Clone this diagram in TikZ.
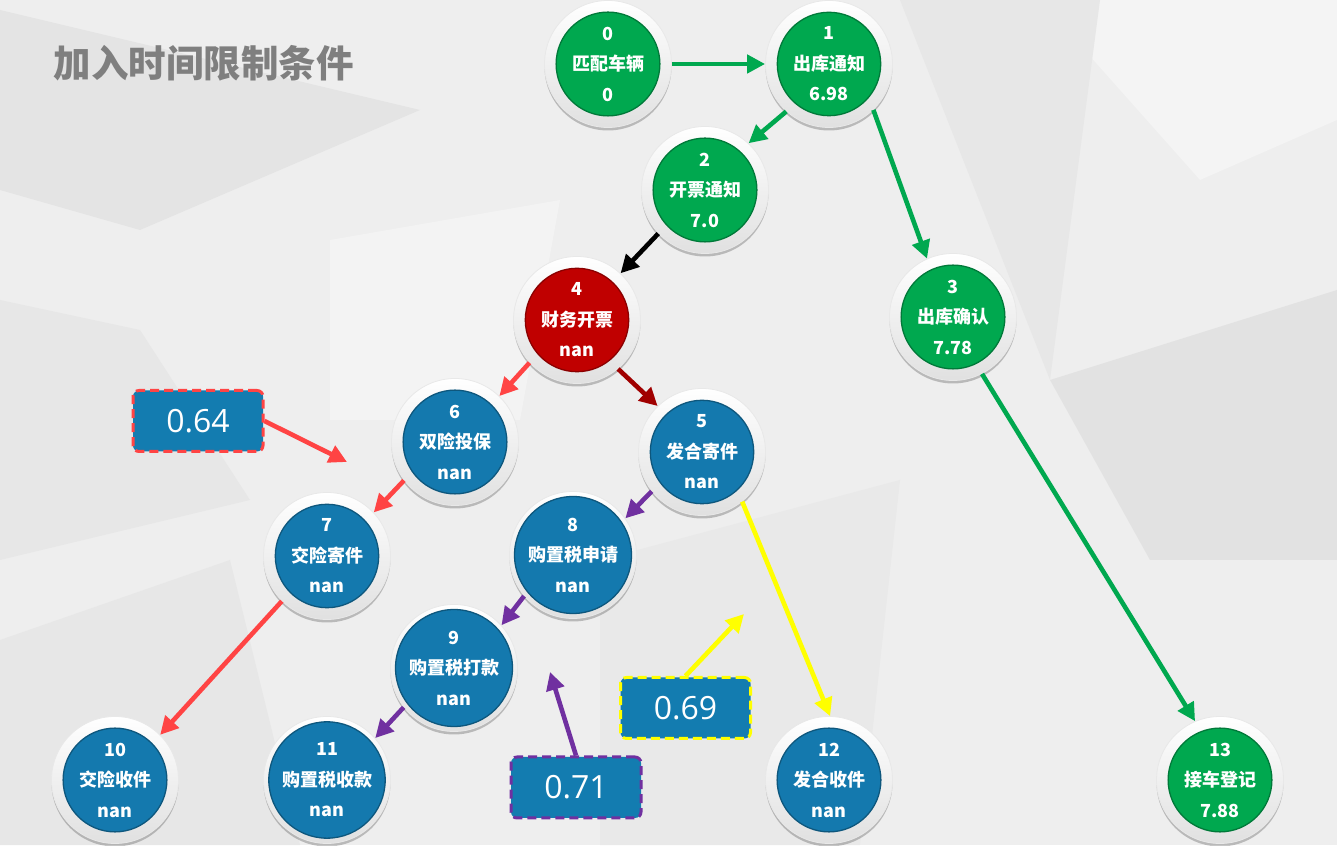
\documentclass[tikz,border=0pt]{standalone}
\usepackage{fontspec}
\newfontfamily\cjk{Noto Sans CJK SC}
\newfontfamily\lab{Open Sans}
\usetikzlibrary{arrows.meta,shadows}
\definecolor{bg}{HTML}{EEEEEE}
\definecolor{gn}{HTML}{00A84F}
\definecolor{bl}{HTML}{1479AE}
\definecolor{rd}{HTML}{C00000}
\definecolor{boxbl}{HTML}{137CB0}
\definecolor{lred}{HTML}{FF4444}
\definecolor{dred}{HTML}{A00000}
\definecolor{pur}{HTML}{7030A0}
\definecolor{yel}{HTML}{FFFF00}
\definecolor{ttl}{HTML}{7F7F7F}
\begin{document}
\begin{tikzpicture}[x=1pt,y=1pt,
  ring/.style={circle,minimum size=127pt,inner sep=0pt,top color=white,bottom color=black!12,draw=black!9,line width=0.8pt,
    drop shadow={shadow xshift=0pt,shadow yshift=-3pt,opacity=0.22,fill=black}},
  disk/.style={circle,minimum size=99pt,inner sep=0pt,draw=#1!72!black,line width=1.3pt,fill=#1,text=white,
    font=\cjk\bfseries\fontsize{18}{30.5}\selectfont,align=center},
  conn/.style={line width=4.6pt,draw=#1,-{Triangle[length=18pt,width=18pt]}},
  lbox/.style={rounded corners=6pt,fill=boxbl,draw=#1,dash pattern=on 9pt off 5pt,line width=3pt,
    minimum width=130pt,minimum height=61pt,text=white,font=\lab\fontsize{32}{36}\selectfont}
]
\useasboundingbox (0,0) rectangle (1337,845);
\fill[bg] (0,0) rectangle (1337,845);
\begin{scope}[yshift=845pt,yscale=-1]
  \fill[black!4!bg] (0,10) -- (420,110) -- (140,230) -- (0,190) -- cycle;
  \fill[white!30!bg] (330,240) -- (560,200) -- (520,420) -- (330,420) -- cycle;
  \fill[black!3!bg] (0,300) -- (140,330) -- (250,500) -- (0,560) -- cycle;
  \fill[black!5!bg] (1050,380) -- (1337,290) -- (1337,560) -- (1150,560) -- cycle;
  \fill[white!35!bg] (1040,0) -- (1337,0) -- (1337,120) -- (1200,180) -- cycle;
  \fill[black!3!bg] (900,0) -- (1100,0) -- (1050,380) -- cycle;
  \fill[black!3!bg] (0,640) -- (230,560) -- (300,845) -- (0,845) -- cycle;
  \fill[black!2!bg] (600,560) -- (900,480) -- (860,845) -- (600,845) -- cycle;
\end{scope}

\node[anchor=west,text=ttl,font=\cjk\bfseries\fontsize{37.5}{40}\selectfont] (title) at (50,782) {加入时间限制条件};

% nodes
\node[ring] (n0) at (608,781) {};  \node[disk=gn] (t0) at (n0) {0\\匹配车辆\\0};
\node[ring] (n1) at (829,781) {};  \node[disk=gn] (t1) at (n1) {1\\出库通知\\6.98};
\node[ring] (n2) at (705,655) {};  \node[disk=gn] (t2) at (n2) {2\\开票通知\\7.0};
\node[ring] (n3) at (953,528) {};  \node[disk=gn] (t3) at (n3) {3\\出库确认\\7.78};
\node[ring] (n4) at (577,525) {};  \node[disk=rd] (t4) at (n4) {4\\财务开票\\nan};
\node[ring] (n6) at (455,403) {};  \node[disk=bl] (t6) at (n6) {6\\双险投保\\nan};
\node[ring] (n5) at (702,393) {};  \node[disk=bl] (t5) at (n5) {5\\发合寄件\\nan};
\node[ring] (n7) at (327,289) {};  \node[disk=bl] (t7) at (n7) {7\\交险寄件\\nan};
\node[ring] (n8) at (573,290) {};  \node[disk=bl] (t8) at (n8) {8\\购置税申请\\nan};
\node[ring] (n9) at (454,177) {};  \node[disk=bl] (t9) at (n9) {9\\购置税打款\\nan};
\node[ring] (n10) at (115,65) {};  \node[disk=bl] (t10) at (n10) {10\\交险收件\\nan};
\node[ring] (n11) at (327,65) {};  \node[disk=bl] (t11) at (n11) {11\\购置税收款\\nan};
\node[ring] (n12) at (829,65) {};  \node[disk=bl] (t12) at (n12) {12\\发合收件\\nan};
\node[ring] (n13) at (1220,65) {}; \node[disk=gn] (t13) at (n13) {13\\接车登记\\7.88};

% connectors
\draw[conn=gn] (n0.0) -- (n1.180);
\draw[conn=gn] (n1.-132) -- (n2.47);
\draw[conn=gn] (n1.-46) -- (n3.114);
\draw[conn=black] (n2.-137) -- (n4.47);
\draw[conn=gn] (n3.-63) -- (n13.113);
\draw[conn=lred] (n4.-138) -- (n6.46);
\draw[conn=dred] (n4.-50) -- (n5.134);
\draw[conn=lred] (n6.-143) -- (n7.43);
\draw[conn=pur] (n5.-142) -- (n8.35);
\draw[conn=pur] (n8.-140) -- (n9.42);
\draw[conn=pur] (n9.-142) -- (n11.41);
\draw[conn=lred] (n7.-135) -- (n10.45);
\draw[conn=yel] (n5.-51) -- (n12.89);

% labels
\node[lbox=lred] (b64) at (198,424) {0.64};
\node[lbox=yel] (b69) at (685.5,137) {0.69};
\node[lbox=pur] (b71) at (576,57.5) {0.71};
\coordinate (a64) at (347,383);
\coordinate (a69) at (744,231);
\coordinate (a71) at (550,173);
\draw[conn=lred] (b64.east) -- (a64);
\draw[conn=yel] (b69.north) -- (a69);
\draw[conn=pur] (b71.north) -- (a71);
\end{tikzpicture}
\end{document}
